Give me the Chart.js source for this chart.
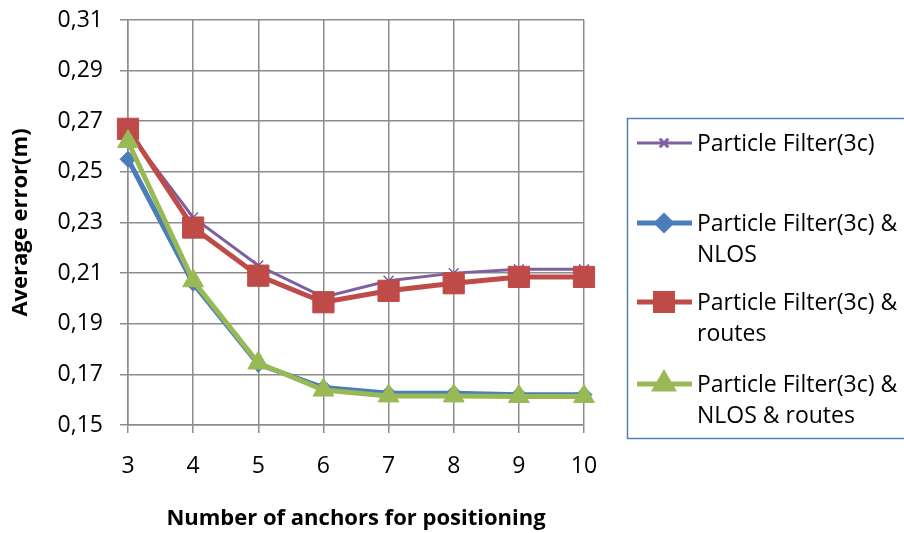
<!DOCTYPE html>
<html>
<head>
<meta charset="utf-8">
<script src="https://cdn.jsdelivr.net/npm/chart.js@4/dist/chart.umd.min.js"></script>
<style>
  html, body { margin: 0; padding: 0; background: #fff; }
  #wrap { width: 904px; height: 533px; position: relative; }
</style>
</head>
<body>
<div id="wrap"><canvas id="c"></canvas></div>
<script>
// anchors vs. average positioning error, four filter variants
const anchors = ['3', '4', '5', '6', '7', '8', '9', '10'];

const pf        = [0.266, 0.232, 0.213, 0.2005, 0.207, 0.210, 0.2115, 0.2115];
const pfNlos    = [0.255, 0.206, 0.174, 0.1648, 0.1625, 0.1625, 0.162, 0.162];
const pfRoutes  = [0.267, 0.228, 0.209, 0.1985, 0.203, 0.206, 0.2085, 0.2085];
const pfBoth    = [0.262, 0.207, 0.1745, 0.1638, 0.1615, 0.1615, 0.1613, 0.1613];

const yTicks = [0.15, 0.17, 0.19, 0.21, 0.23, 0.25, 0.27, 0.29, 0.31];

const FONT = '"Open Sans", sans-serif';
const GRID = '#8c8c8c';

const legendItems = [
  { lines: ['Particle Filter(3c)'], y: 143 },
  { lines: ['Particle Filter(3c) &', 'NLOS'], y: 223 },
  { lines: ['Particle Filter(3c) &', 'routes'], y: 302 },
  { lines: ['Particle Filter(3c) &', 'NLOS & routes'], y: 384 },
];

// legend box drawn by hand so the text can wrap like the original
const sideLegend = {
  id: 'sideLegend',
  afterDraw(chart) {
    const ctx = chart.ctx;
    ctx.save();
    ctx.strokeStyle = '#4f81bd';
    ctx.lineWidth = 1.5;
    ctx.strokeRect(627.5, 118.5, 300, 320);
    ctx.font = '23px ' + FONT;
    ctx.textBaseline = 'middle';
    legendItems.forEach((it, i) => {
      const ds = chart.data.datasets[i];
      ctx.strokeStyle = ds.borderColor;
      ctx.fillStyle = ds.borderColor;
      ctx.lineWidth = ds.borderWidth;
      ctx.beginPath();
      ctx.moveTo(637, it.y);
      ctx.lineTo(692, it.y);
      ctx.stroke();
      Chart.helpers.drawPoint(ctx, {
        pointStyle: ds.pointStyle,
        radius: ds.legendRadius,
        rotation: 0,
        borderWidth: ds.pointBorderWidth,
      }, 664, it.y);
      ctx.fillStyle = '#000';
      it.lines.forEach((t, j) => ctx.fillText(t, 697, it.y + 1 + j * 31));
    });
    ctx.restore();
  },
};

function series(label, data, color, width, style, radius, legendRadius, order) {
  return {
    label, data, order,
    borderColor: color,
    backgroundColor: color,
    borderWidth: width,
    pointStyle: style,
    pointRadius: radius,
    pointBorderWidth: style === 'crossRot' ? 1.5 : 1,
    pointBackgroundColor: color,
    pointBorderColor: color,
    legendRadius,
    tension: 0,
  };
}

new Chart(document.getElementById('c'), {
  type: 'line',
  data: {
    labels: anchors,
    datasets: [
      series('Particle Filter(3c)', pf, '#7e60a0', 3, 'crossRot', 7, 6, 3),
      series('Particle Filter(3c) & NLOS', pfNlos, '#4a7ebb', 5, 'rectRot', 8, 7, 2),
      series('Particle Filter(3c) & routes', pfRoutes, '#be4b48', 5, 'rect', 15, 12, 1),
      series('Particle Filter(3c) & NLOS & routes', pfBoth, '#98b954', 5, 'triangle', 12, 10, 0),
    ],
  },
  options: {
    responsive: true,
    maintainAspectRatio: false,
    animation: false,
    layout: { padding: { left: 0, right: 320, top: 20, bottom: 0 } },
    plugins: { legend: { display: false }, tooltip: { enabled: false } },
    scales: {
      x: {
        offset: false,
        afterFit: (s) => { s.height = 108; },
        grid: { color: GRID, lineWidth: 1.5, tickLength: 8, drawTicks: true },
        border: { color: GRID, width: 1.5 },
        ticks: { color: '#000', font: { family: FONT, size: 23 }, padding: 20, maxRotation: 0 },
        title: {
          display: true, text: 'Number of anchors for positioning', color: '#000',
          font: { family: FONT, size: 22, weight: 'bold' }, padding: { top: 0, bottom: 1 },
        },
      },
      y: {
        min: 0.15, max: 0.31,
        afterFit: (s) => { s.width = 128; s.paddingTop = 0; s.paddingBottom = 0; },
        afterBuildTicks: (s) => { s.ticks = yTicks.map((v) => ({ value: v })); },
        grid: { color: GRID, lineWidth: 1.5, tickLength: 8 },
        border: { color: GRID, width: 1.5 },
        ticks: {
          color: '#000', font: { family: FONT, size: 23 }, padding: 17,
          callback: (v) => v.toFixed(2).replace('.', ','),
        },
        title: {
          display: true, text: 'Average error(m)', color: '#000',
          font: { family: FONT, size: 22, weight: 'bold' }, padding: { top: 8, bottom: 0 },
        },
      },
    },
  },
  plugins: [sideLegend],
});
</script>
</body>
</html>
